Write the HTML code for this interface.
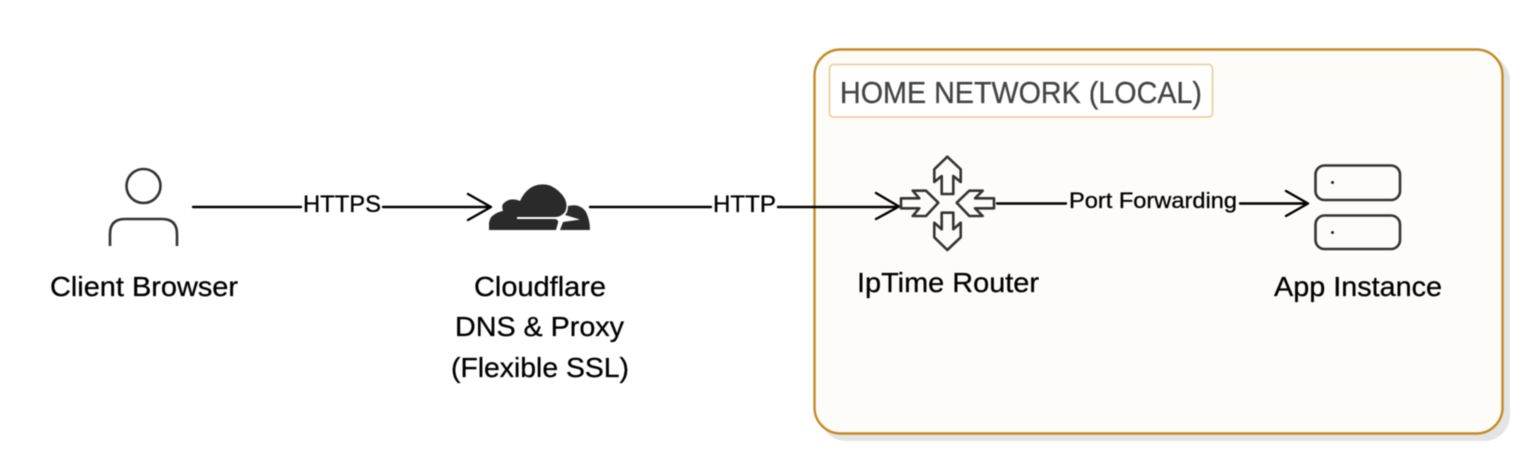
<!DOCTYPE html>
<html><head><meta charset="utf-8"><style>
html,body{margin:0;padding:0;background:#fff;width:1539px;height:465px;overflow:hidden}
svg{display:block;filter:blur(.5px)}
text{font-family:"Liberation Sans",sans-serif;fill:#000;stroke:#000;stroke-width:.3px}
</style></head><body>
<svg width="1539" height="465" viewBox="0 0 1539 465" xmlns="http://www.w3.org/2000/svg">
<rect width="1539" height="465" fill="#fff"/>
<rect x="820" y="55" width="690" height="386" rx="26" fill="#e4e4e4"/>
<rect x="814.500" y="49.500" width="688" height="384" rx="26" fill="#fdfcf8" stroke="#c68a28" stroke-width="2.400"/>
<rect x="829.500" y="64.500" width="383" height="52.500" rx="4" fill="#fff" stroke="#e9c997" stroke-width="1.500"/>
<text x="840" y="103" font-size="30.500" style="fill:#444;stroke:#444" textLength="362" lengthAdjust="spacingAndGlyphs">HOME NETWORK (LOCAL)</text>

<g fill="none" stroke="#333" stroke-width="2.600">
<circle cx="143.500" cy="186" r="17"/>
<path d="M110 246V234Q110 219 125 219H162Q177 219 177 234V246"/>
</g>

<g fill="none" stroke="#000" stroke-width="2.400" stroke-linecap="round" stroke-linejoin="round">
<path d="M193 207H301M383 207H490M468 194L491 207L468 220"/>
<path d="M590 207H711M778 207H898M876 193L899 206.500L876 219"/>
<path d="M997 203.500H1066M1240 203.500H1307M1286 191L1308 203.500L1286 216"/>
</g>
<text x="303" y="212" font-size="24" textLength="78" lengthAdjust="spacingAndGlyphs">HTTPS</text>
<text x="713" y="212" font-size="24" textLength="63" lengthAdjust="spacingAndGlyphs">HTTP</text>
<text x="1069" y="208" font-size="22.500" textLength="168" lengthAdjust="spacingAndGlyphs">Port Forwarding</text>

<g fill="#2a2a2a">
<path d="M489 230V223Q490 217 493 215.500Q497 212 503 211Q501 205 504 203Q510 197 520 201Q525 190 534 186Q542 183 550 185.500Q560 190 565 199Q568 206 565 212Q561 217 555 217H517V219H555Q559 220 558 223L556 230Z"/>
<path d="M560 230L563 222L580 219.500L565 215Q568 212 568 206Q580 203 586 212Q590 220 590 230Z"/>
</g>

<g fill="none" stroke="#333" stroke-width="2.600" stroke-linejoin="round">
<path d="M947.300 156.700L960.700 169.300V182L953.300 176V194H941.700V176L934.300 182V169.300Z"/>
<path d="M947.300 250L960.700 237.300V222.700L953.300 229.300V212.700H941.700V229.300L934.300 222.700V237.300Z"/>
<path d="M938.300 202.700L926 216H912.700L919.300 208.300H901V198.300H919.300L912.700 190.700H926Z"/>
<path d="M956.700 202.700L969.300 190.700H982.700L975 198.300H994V208.300H975L982.700 216H969.300Z"/>
</g>

<g fill="none" stroke="#333" stroke-width="2.600">
<rect x="1315.500" y="165.500" width="84.500" height="34.500" rx="9"/>
<rect x="1315.500" y="215.500" width="84.500" height="33.500" rx="9"/>
</g>
<circle cx="1332.500" cy="182.500" r="1.500" fill="#222"/>
<circle cx="1332.500" cy="232.500" r="1.500" fill="#222"/>

<g font-size="28">
<text x="50" y="296" textLength="188" lengthAdjust="spacingAndGlyphs">Client Browser</text>
<text x="474" y="296" textLength="132" lengthAdjust="spacingAndGlyphs">Cloudflare</text>
<text x="455" y="336" textLength="169" lengthAdjust="spacingAndGlyphs">DNS &amp; Proxy</text>
<text x="451" y="377" textLength="178" lengthAdjust="spacingAndGlyphs">(Flexible SSL)</text>
<text x="857" y="292" textLength="182" lengthAdjust="spacingAndGlyphs">IpTime Router</text>
<text x="1274" y="296" textLength="168" lengthAdjust="spacingAndGlyphs">App Instance</text>
</g>
</svg>
</body></html>
